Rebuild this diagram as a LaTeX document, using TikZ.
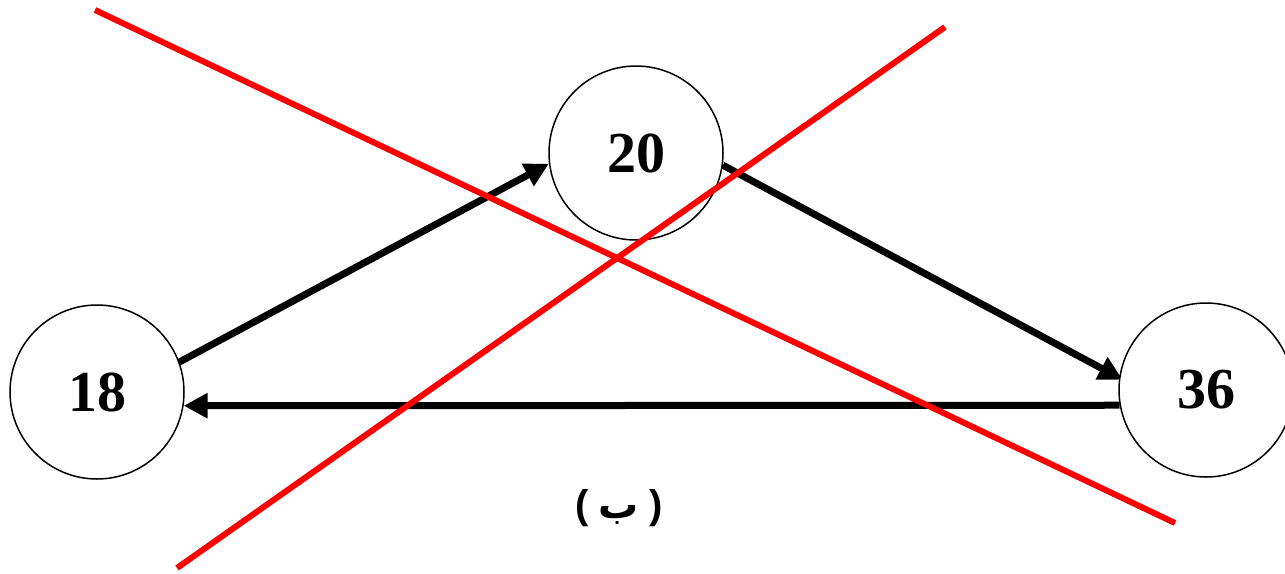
\documentclass[tikz,border=0pt]{standalone}
\usepackage{fontspec}
\setmainfont{Liberation Serif}
\newfontfamily\arabicfont[Script=Arabic]{DejaVu Sans}
\newfontfamily\parenfont{Liberation Sans}
\TeXXeTstate=1
\usetikzlibrary{arrows.meta}
\begin{document}
\begin{tikzpicture}[x=1pt,y=-1pt,
  numnode/.style={circle,draw=black,line width=1.5pt,fill=white,minimum size=174pt,inner sep=0pt,
    font=\fontsize{58}{58}\selectfont\bfseries},
  conn/.style={line width=7pt,-{Triangle[length=24pt,width=24pt]}},
  crossline/.style={line width=6pt,draw={rgb,255:red,255;green,0;blue,0}}]
\useasboundingbox (0,0) rectangle (1285,573);
\path (97,392) coordinate (p18) (636,153) coordinate (p20) (1206,390) coordinate (p36);
\node[numnode,draw=none,fill=none] (n18) at (p18) {};
\node[numnode,draw=none,fill=none] (n20) at (p20) {};
\node[numnode,draw=none,fill=none] (n36) at (p36) {};
\draw[conn,shorten <=-12pt] (n18.20) -- (n20.187);
\draw[conn,shorten >=-4pt] (n20.352) -- (n36.172);
\draw[conn] (n36.190) -- (n18.351);
\node[numnode] (a18) at (p18) {18};
\node[numnode] (a20) at (p20) {20};
\node[numnode] (a36) at (p36) {36};
\coordinate (r1s) at (95,10);
\coordinate (r1e) at (1175,523);
\coordinate (r2s) at (945,27);
\coordinate (r2e) at (177,568);
\draw[crossline] (r1s) -- (r1e);
\draw[crossline] (r2s) -- (r2e);
\node[font=\fontsize{40}{40}\selectfont\bfseries] (lbl) at (619,508) {{\parenfont(}\hspace{10pt}{\arabicfont\beginR ب\endR}\hspace{10pt}{\parenfont)}};
\end{tikzpicture}
\end{document}
